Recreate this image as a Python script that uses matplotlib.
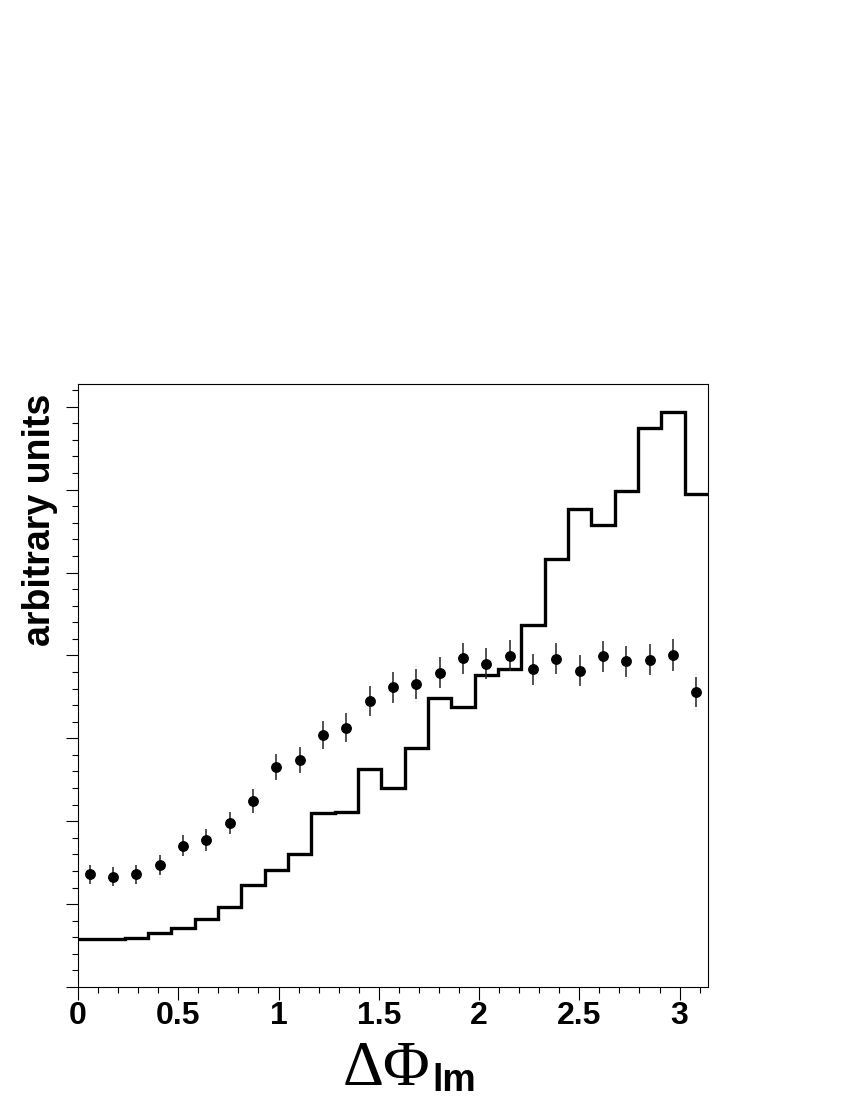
import numpy as np
import matplotlib
matplotlib.use("Agg")
import matplotlib.pyplot as plt
from matplotlib.ticker import MultipleLocator

# histogram (27 bins over 0..pi), arbitrary units
n_bins = 27
hist_vals = [0.575, 0.575, 0.595, 0.655, 0.715, 0.824, 0.965, 1.230, 1.417,
             1.608, 2.103, 2.111, 2.633, 2.400, 2.883, 3.486, 3.381, 3.764,
             3.836, 4.361, 5.159, 5.766, 5.573, 5.989, 6.747, 6.936, 5.947]

# data points with errors
pt_vals = [1.359, 1.331, 1.359, 1.468, 1.704, 1.770, 1.982, 2.247, 2.657,
           2.738, 3.036, 3.128, 3.446, 3.615, 3.655, 3.791, 3.965, 3.900,
           3.996, 3.832, 3.960, 3.815, 3.989, 3.929, 3.948, 4.005, 3.555]
pt_errs = [0.115, 0.115, 0.115, 0.12, 0.125, 0.13, 0.135, 0.145, 0.155,
           0.16, 0.17, 0.175, 0.18, 0.185, 0.185, 0.19, 0.19, 0.19,
           0.19, 0.19, 0.19, 0.19, 0.19, 0.19, 0.19, 0.19, 0.18]

x_ticks = [0, 0.5, 1, 1.5, 2, 2.5, 3]
x_ticklabels = ["0", "0.5", "1", "1.5", "2", "2.5", "3"]

edges = np.linspace(0, np.pi, n_bins + 1)
centers = 0.5 * (edges[:-1] + edges[1:])

fig = plt.figure(figsize=(8.5, 11), dpi=100)
ax = fig.add_axes([78 / 850, 113 / 1100, 630 / 850, 603 / 1100])

ax.stairs(hist_vals, edges, baseline=None, color="black", lw=2.4)
ax.errorbar(centers, pt_vals, yerr=pt_errs, fmt="o", color="black",
            ms=6.8, ecolor="#222222", elinewidth=1.1, capsize=0)

ax.set_xlim(0, np.pi)
ax.set_ylim(0, 603 / 82.9)

ax.set_xticks(x_ticks)
ax.set_xticklabels(x_ticklabels, fontfamily="Liberation Sans",
                   fontweight="bold", fontsize=23)
ax.xaxis.set_minor_locator(MultipleLocator(0.1))
ax.yaxis.set_major_locator(MultipleLocator(1))
ax.yaxis.set_minor_locator(MultipleLocator(0.2))
ax.set_yticklabels([])
ax.tick_params(axis="both", which="both", direction="out", width=0.8,
               top=False, right=False)
ax.tick_params(axis="both", which="major", length=9)
ax.tick_params(axis="both", which="minor", length=4.5)
ax.tick_params(axis="x", which="major", pad=1)
for s in ax.spines.values():
    s.set_linewidth(0.8)

fig.text(40 / 850, 1 - 520 / 1100, "arbitrary units", rotation=90,
         ha="center", va="center", fontfamily="Liberation Sans",
         fontweight="bold", fontsize=27)

fig.text(430 / 850, 1 - 1085 / 1100, "ΔΦ", ha="right", va="baseline",
         fontfamily="Liberation Serif", fontsize=46)
fig.text(432 / 850, 1 - 1091 / 1100, "lm", ha="left", va="baseline",
         fontfamily="Liberation Sans", fontweight="bold", fontsize=27)

fig.savefig("out.png", dpi=100)
